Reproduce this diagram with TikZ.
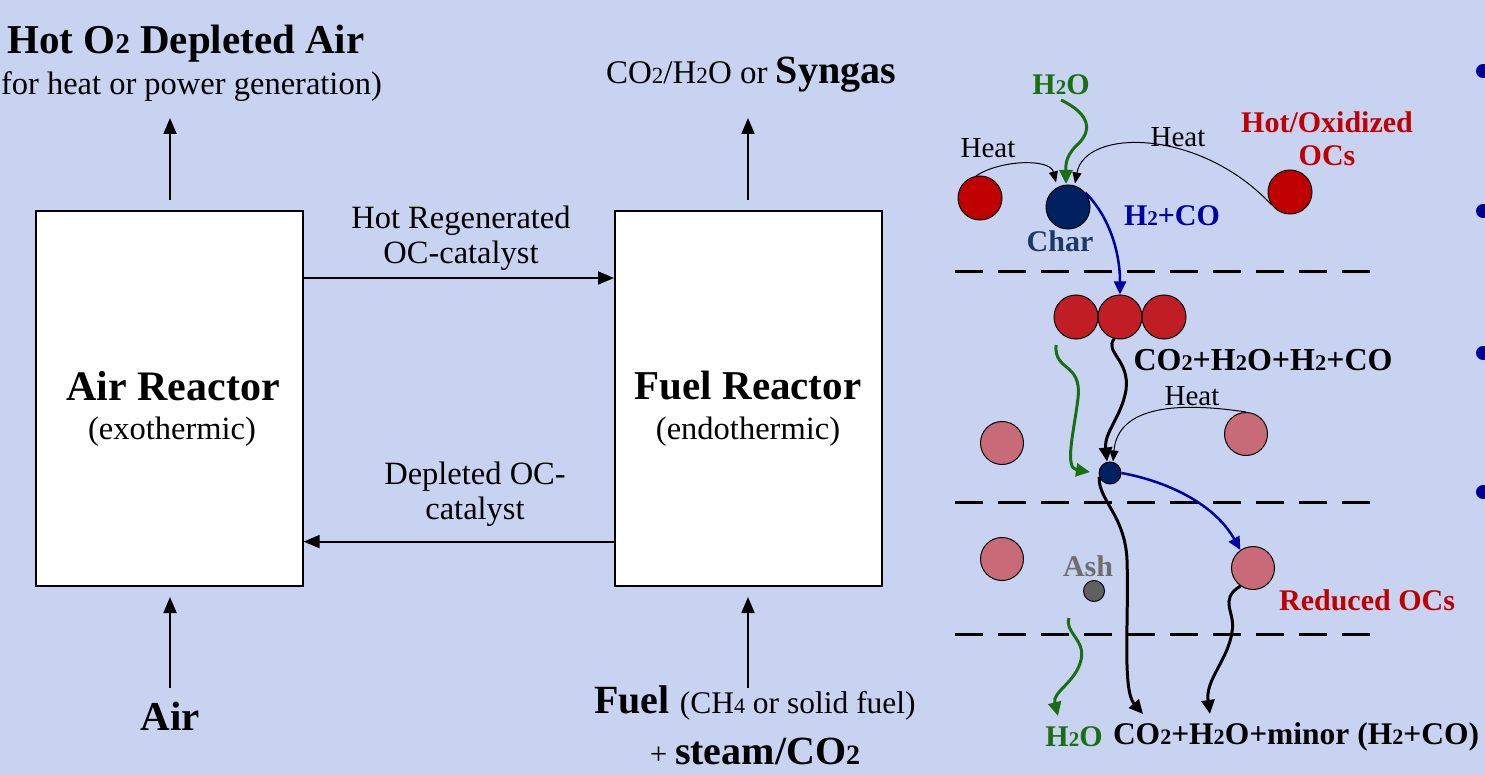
\documentclass[tikz,border=0pt]{standalone}
\usepackage{fontspec}
\setmainfont{Liberation Serif}
\usepackage{graphicx}
\usetikzlibrary{arrows.meta}
\newcommand\dsub[1]{\scalebox{0.7}{#1}}
\definecolor{bgc}{RGB}{199,211,241}
\definecolor{ocred}{RGB}{192,0,0}
\definecolor{rowred}{RGB}{192,30,36}
\definecolor{pinkoc}{RGB}{200,106,120}
\definecolor{navy}{RGB}{0,32,96}
\definecolor{chartxt}{RGB}{31,56,100}
\definecolor{bluea}{RGB}{0,0,160}
\definecolor{greena}{RGB}{26,110,20}
\definecolor{ashc}{RGB}{96,96,96}
\definecolor{ashtxt}{RGB}{110,110,110}
\definecolor{bullet}{RGB}{0,0,150}
\begin{document}
\begin{tikzpicture}[x=1pt,y=-1pt,
  box/.style={draw, line width=1.6pt, fill=white, anchor=north west, minimum width=267pt, minimum height=375pt, inner sep=0},
  reg/.style={font=\fontsize{32.5}{38}\selectfont, inner sep=0, align=center},
  big/.style={font=\fontsize{41}{46}\selectfont\bfseries, inner sep=0, align=center},
  rs/.style={font=\fontsize{29}{34}\selectfont, inner sep=0},
  rb/.style={font=\fontsize{30}{35}\selectfont\bfseries, inner sep=0},
  arr/.style={line width=1.8pt, -{Triangle[length=16pt,width=13pt]}},
  harr/.style={line width=1pt, -{Triangle[length=11pt,width=9pt]}},
  warr/.style={line width=3pt, -{Triangle[length=14pt,width=13pt]}},
  oc/.style={circle, draw, line width=1pt, minimum size=44pt, inner sep=0},
  dl/.style={line width=3pt, dash pattern=on 28pt off 15pt}]
\useasboundingbox (0,0) rectangle (1485,775);
\fill[bgc] (0,0) rectangle (1485,775);

% ---- left panel ----
\node[box] (ar) at (35,210) {};
\node[box] (fr) at (614,210) {};
\node[big, font=\fontsize{42}{46}\selectfont\bfseries] (art) at (173,386) {Air Reactor};
\node[reg] (arsub) at (172,432) {(exothermic)};
\node[big] (frt) at (748,386) {Fuel Reactor};
\node[reg] (frsub) at (748,432) {(endothermic)};

\node[big] (hot) at (186,44) {Hot O\dsub{2} Depleted Air};
\node[reg, anchor=east] (hotsub) at (382,87) {(for heat or power generation)};
\node[inner sep=0] (syn) at (751,75) {{\fontsize{33}{38}\selectfont CO\dsub{2}/H\dsub{2}O or }{\fontsize{40}{44}\selectfont\bfseries Syngas}};

\node[reg] (regen) at (461,238) {Hot Regenerated\\[-3pt]OC-catalyst};
\node[reg] (depl) at (475,494) {Depleted OC-\\[-3pt]catalyst};

\node[big] (air) at (170,716) {Air};
\node[inner sep=0] (fuel) at (755,703) {{\fontsize{40}{44}\selectfont\bfseries Fuel }{\fontsize{31.5}{36}\selectfont (CH\dsub{4} or solid fuel)}};
\node[inner sep=0] (steam) at (755,751) {{\fontsize{31}{36}\selectfont + }{\fontsize{40}{44}\selectfont\bfseries steam/CO\dsub{2}}};

\coordinate (aro) at (170,118);
\coordinate (fro) at (748,118);
\coordinate (ari) at (170,597);
\coordinate (fri) at (748,597);
\draw[arr] (170,200) -- (aro);
\draw[arr] (748,200) -- (fro);
\draw[arr] (air.north |- 0,688) -- (ari);
\draw[arr] (748,688) -- (fri);
\draw[arr] ([yshift=-68pt]ar.north east) -- ([yshift=-68pt]fr.north west);
\draw[arr] ([yshift=45pt]fr.south west) -- ([yshift=45pt]ar.south east);

% ---- right panel ----
\draw[dl] (955,272) -- (1372,272);
\draw[dl] (955,502) -- (1372,502);
\draw[dl] (955,634) -- (1372,634);

\node[oc, fill=ocred] (r1) at (980,198) {};
\node[oc, fill=navy] (ch) at (1068,207) {};
\node[oc, fill=ocred] (r3) at (1290,192) {};

\node[oc, fill=rowred] (m1) at (1076,317) {};
\node[oc, fill=rowred] (m2) at (1120,317) {};
\node[oc, fill=rowred] (m3) at (1164,317) {};

\node[oc, fill=pinkoc, minimum size=43pt] (p1) at (1002,443) {};
\node[oc, fill=pinkoc, minimum size=43pt] (p2) at (1246,434) {};
\node[oc, fill=pinkoc, minimum size=43pt] (p3) at (1002,559) {};
\node[oc, fill=pinkoc, minimum size=43pt] (p4) at (1253,568) {};

\node[circle, draw, line width=1pt, fill=navy, minimum size=22pt, inner sep=0] (c2) at (1110,473) {};
\node[circle, draw, line width=1pt, fill=ashc, minimum size=21pt, inner sep=0] (ash) at (1094,591) {};

\node[rb, text=greena] (h2otop) at (1061,85) {H\dsub{2}O};
\node[rs] (heat1) at (988,148) {Heat};
\node[rs] (heat2) at (1178,137) {Heat};
\node[rb, text=ocred, align=center] (hotox) at (1327,139) {Hot/Oxidized\\[-2pt]OCs};
\node[rb, text=chartxt] (chart) at (1060,241) {Char};
\node[rb, text=bluea] (h2co) at (1172,216) {H\dsub{2}+CO};
\node[rb, font=\fontsize{32}{35}\selectfont\bfseries] (prod1) at (1263,360) {CO\dsub{2}+H\dsub{2}O+H\dsub{2}+CO};
\node[rs] (heat3) at (1192,396) {Heat};
\node[rb, text=ashtxt] (asht) at (1088,566) {Ash};
\node[rb, text=ocred] (redoc) at (1367,600) {Reduced OCs};
\node[rb, text=greena] (h2obot) at (1074,737) {H\dsub{2}O};
\node[rb, font=\fontsize{31.5}{35}\selectfont\bfseries] (prod2) at (1296,737) {CO\dsub{2}+H\dsub{2}O+minor (H\dsub{2}+CO)};

% heat arrows
\draw[harr] (r1.100) .. controls (1000,160) and (1050,158) .. ([xshift=-12pt,yshift=2pt]ch.north);
\draw[harr] (r3.215) .. controls (1200,128) and (1085,128) .. ([xshift=7pt,yshift=1pt]ch.north);
\draw[harr] (p2.north) .. controls (1180,402) and (1118,405) .. ([xshift=3pt]c2.north);

% green wavy arrows
\coordinate (g1s) at (1061,100);
\coordinate (g1e) at (1066,184);
\draw[warr, greena] (g1s) .. controls (1092,115) and (1092,132) .. (1076,146) .. controls (1064,158) and (1066,168) .. (g1e);
\coordinate (g2s) at (1056,345);
\coordinate (g2e) at (1090,472);
\draw[warr, greena] (g2s) .. controls (1054,372) and (1082,362) .. (1078,398) .. controls (1074,432) and (1064,468) .. (g2e);
\coordinate (g3s) at (1069,618);
\coordinate (g3e) at (1058,716);
\draw[warr, greena] (g3s) .. controls (1064,632) and (1086,640) .. (1081,660) .. controls (1076,682) and (1052,692) .. (g3e);

% blue arrows
\draw[line width=2.5pt, bluea, -{Triangle[length=13pt,width=12pt]}] (ch.40) .. controls (1108,215) and (1120,250) .. (m2.north);
\draw[line width=2.5pt, bluea, -{Triangle[length=13pt,width=12pt]}] (c2.east) .. controls (1170,482) and (1215,505) .. (p4.125);

% black wavy arrows
\draw[warr] (m2.255) .. controls (1104,352) and (1130,360) .. (1126,390) .. controls (1121,418) and (1104,432) .. ([xshift=-3pt]c2.north);
\draw[warr] (c2.200) .. controls (1098,500) and (1125,515) .. (1127,560) .. controls (1129,620) and (1122,690) .. (1143,714);
\draw[warr] (p4.235) .. controls (1218,600) and (1236,612) .. (1232,632) .. controls (1228,660) and (1205,680) .. (1210,714);

% bullets
\foreach \yy in {71,211,353,492} \fill[bullet] (1483,\yy) circle (7pt);
\end{tikzpicture}
\end{document}
